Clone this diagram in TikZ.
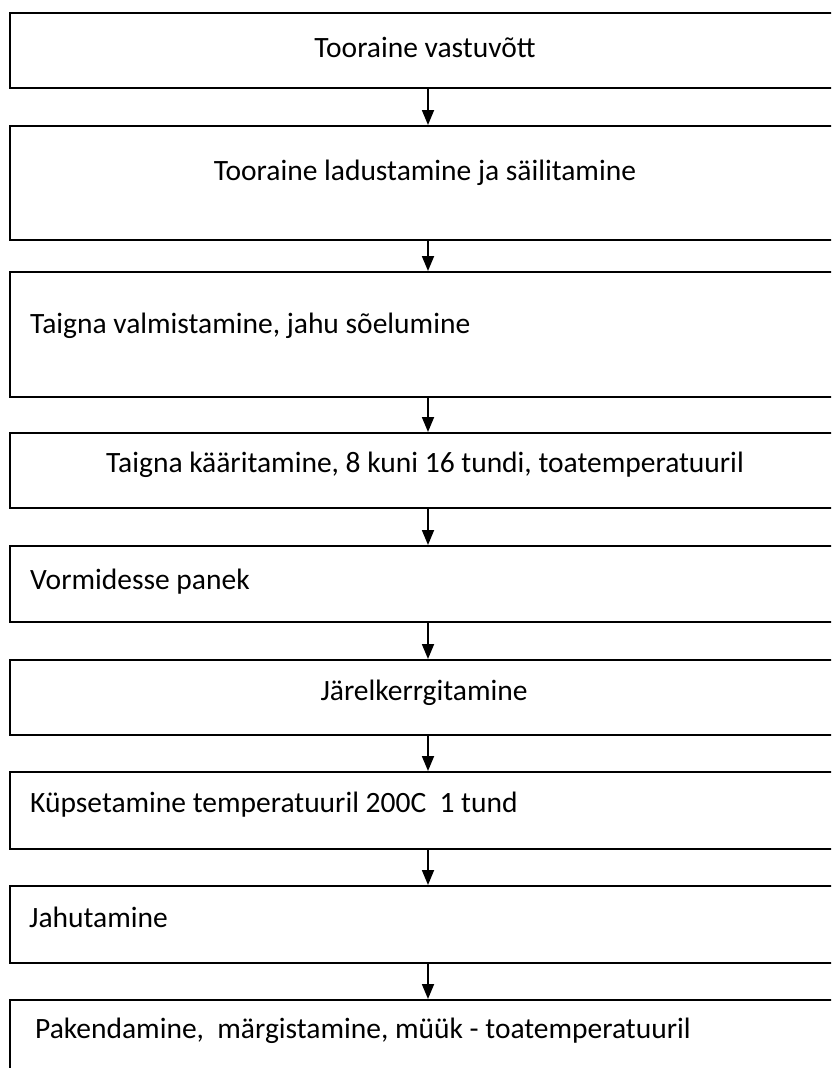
\documentclass[tikz,border=0pt]{standalone}
\usepackage{fontspec}
\setmainfont{Carlito}
\usetikzlibrary{arrows.meta}
\tikzset{
  stepbox/.style={draw=black, line width=2pt, rectangle, anchor=north west, minimum width=836pt, inner sep=0pt},
  lbl/.style={font=\fontsize{29.5}{34}\selectfont, inner sep=0pt, text=black, anchor=base},
  lbll/.style={lbl, anchor=base west},
  arr/.style={line width=1.8pt, -{Triangle[width=12pt,length=15pt]}}
}
\begin{document}
\begin{tikzpicture}[x=1pt,y=-1pt]
\useasboundingbox (0,0) rectangle (831,1068);
\fill[white] (0,0) rectangle (831,1068);
\clip (0,0) rectangle (831,1068);
\node[stepbox, minimum height=75pt] (b1) at (9,12) {};
\node[stepbox, minimum height=114pt] (b2) at (9,125) {};
\node[stepbox, minimum height=125pt] (b3) at (9,271) {};
\node[stepbox, minimum height=75pt] (b4) at (9,432) {};
\node[stepbox, minimum height=76pt] (b5) at (9,545) {};
\node[stepbox, minimum height=75pt] (b6) at (9,659) {};
\node[stepbox, minimum height=77pt] (b7) at (9,771) {};
\node[stepbox, minimum height=77pt] (b8) at (9,885) {};
\node[stepbox, minimum height=110pt] (b9) at (9,999) {};
\node[lbl] (t1) at (425,57) {Tooraine vastuvõtt};
\node[lbl] (t2) at (425,180) {Tooraine ladustamine ja säilitamine};
\node[lbll] (t3) at (30,333) {Taigna valmistamine, jahu sõelumine};
\node[lbl] (t4) at (425,472) {Taigna kääritamine, 8 kuni 16 tundi, toatemperatuuril};
\node[lbll] (t5) at (30,589) {Vormidesse panek};
\node[lbl] (t6) at (424,700) {Järelkerrgitamine};
\node[lbll] (t7) at (30,812) {Küpsetamine temperatuuril 200C\ \ 1 tund};
\node[lbll] (t8) at (29,927) {Jahutamine};
\node[lbll] (t9) at (35,1038) {Pakendamine,\ \ märgistamine, müük - toatemperatuuril};
\draw[arr] (b1.south) -- (b2.north);
\draw[arr] (b2.south) -- (b3.north);
\draw[arr] (b3.south) -- (b4.north);
\draw[arr] (b4.south) -- (b5.north);
\draw[arr] (b5.south) -- (b6.north);
\draw[arr] (b6.south) -- (b7.north);
\draw[arr] (b7.south) -- (b8.north);
\draw[arr] (b8.south) -- (b9.north);
\end{tikzpicture}
\end{document}
